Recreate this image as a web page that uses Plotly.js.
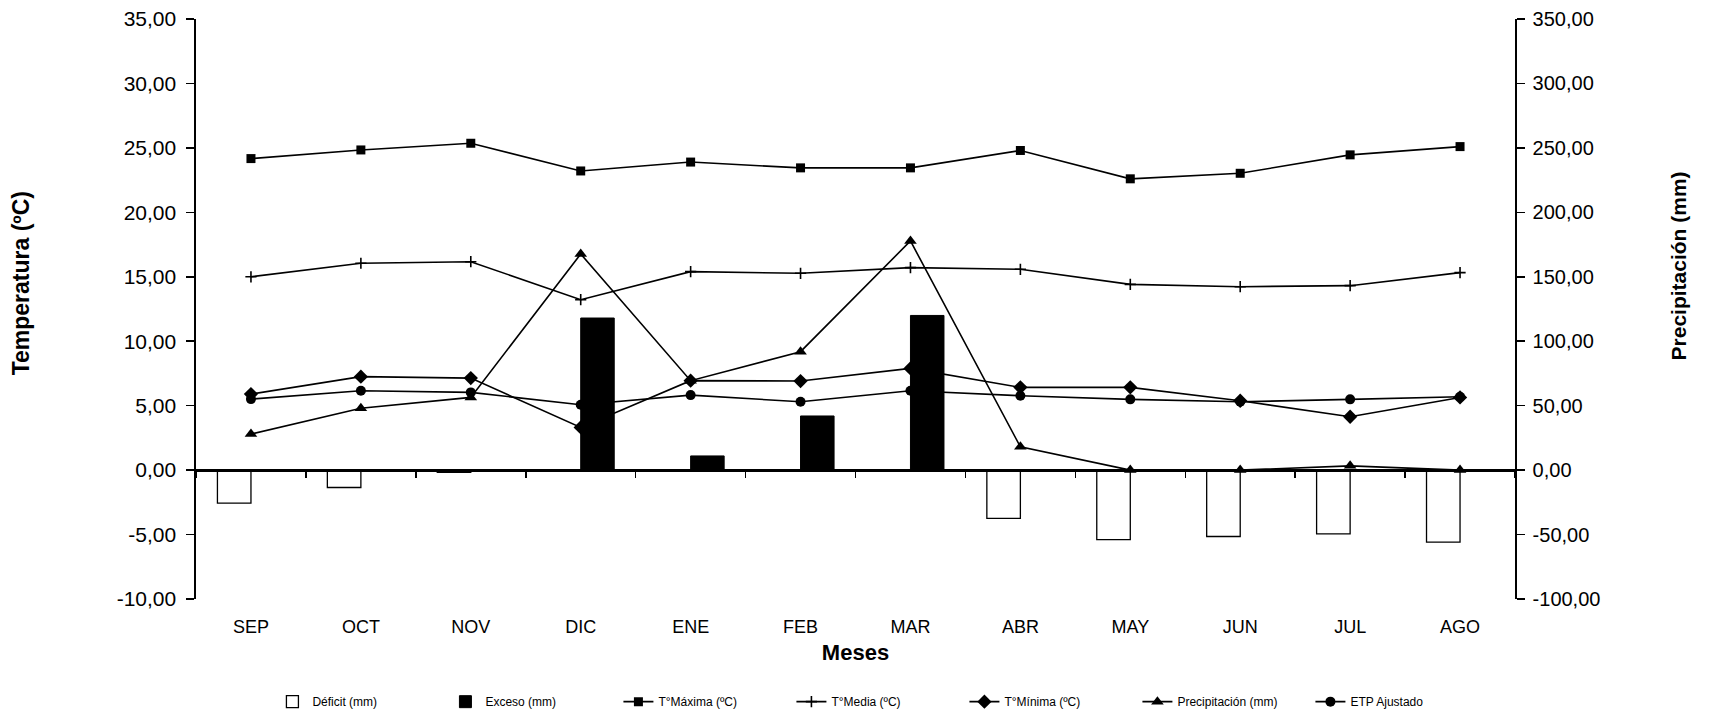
<!DOCTYPE html>
<html><head><meta charset="utf-8">
<script src="https://cdn.plot.ly/plotly-3.0.1.min.js"></script>
<style>html,body{margin:0;padding:0;background:#fff}#chart{width:1713px;height:717px}</style>
</head><body><div id="chart"></div>
<script>
const months = ['SEP','OCT','NOV','DIC','ENE','FEB','MAR','ABR','MAY','JUN','JUL','AGO'];
const deficitMm = [-25.6, -13.5, -1.8, 0, 0, 0, 0, -37.5, -53.9, -51.5, -49.5, -55.9];
const excesoMm = [0, 0, 0, 118, 11, 42, 120, 0, 0, 0, 0, 0];
const tMaxima = [24.17, 24.84, 25.36, 23.21, 23.9, 23.45, 23.45, 24.8, 22.6, 23.03, 24.46, 25.1];
const tMedia = [15.0, 16.05, 16.17, 13.22, 15.4, 15.27, 15.71, 15.58, 14.41, 14.23, 14.31, 15.32];
const tMinima = [5.9, 7.25, 7.14, 3.31, 6.94, 6.91, 7.89, 6.42, 6.42, 5.38, 4.14, 5.64];
const precipitacionMm = [28, 48, 56.4, 167.7, 69.4, 91.9, 177.8, 18.1, 0, 0, 3.3, 0];
const etpAjustadoMm = [55.1, 61.6, 60.3, 50.7, 58.2, 53.0, 61.6, 57.7, 54.9, 53.0, 54.9, 56.9];

const leftTickVals = [-10, -5, 0, 5, 10, 15, 20, 25, 30, 35];
const leftTickText = ['-10,00','-5,00','0,00','5,00','10,00','15,00','20,00','25,00','30,00','35,00'];
const rightTickVals = [-100, -50, 0, 50, 100, 150, 200, 250, 300, 350];
const rightTickText = ['-100,00','-50,00','0,00','50,00','100,00','150,00','200,00','250,00','300,00','350,00'];
const leftTitle = 'Temperatura (ºC)';
const rightTitle = 'Precipitación (mm)';
const xTitle = 'Meses';

const FONT = 'Liberation Sans, Arial, sans-serif';
const K = '#000';
const leftRange = [-10, 35];
const rightRange = [-100, 350];
const zeroFrac = (0 - leftRange[0]) / (leftRange[1] - leftRange[0]);

const lineStyle = {color: K, width: 1.6};
const traces = [
  {type:'bar', name:'Déficit (mm)', x:months, y:deficitMm, yaxis:'y2',
   marker:{color:'#fff', line:{color:K, width:1.3}}},
  {type:'bar', name:'Exceso (mm)', x:months, y:excesoMm, yaxis:'y2',
   marker:{color:K, line:{color:K, width:1}}},
  {type:'scatter', mode:'lines+markers', name:'T°Máxima (ºC)', x:months, y:tMaxima,
   line:lineStyle, marker:{symbol:'square', size:9, color:K}},
  {type:'scatter', mode:'lines+markers', name:'T°Media (ºC)', x:months, y:tMedia,
   line:lineStyle, marker:{symbol:'cross-thin', size:8, color:K, line:{color:K, width:1.6}}},
  {type:'scatter', mode:'lines+markers', name:'T°Mínima (ºC)', x:months, y:tMinima,
   line:lineStyle, marker:{symbol:'diamond', size:11, color:K}},
  {type:'scatter', mode:'lines+markers', name:'Precipitación (mm)', x:months, y:precipitacionMm, yaxis:'y2',
   line:lineStyle, marker:{symbol:'triangle-up', size:11, color:K}},
  {type:'scatter', mode:'lines+markers', name:'ETP Ajustado', x:months, y:etpAjustadoMm, yaxis:'y2',
   line:lineStyle, marker:{symbol:'circle', size:10, color:K}},
  // empty helper trace so the zero-level axis (boundary ticks) is instantiated
  {type:'scatter', mode:'none', x:[], y:[], xaxis:'x2', yaxis:'y', showlegend:false, hoverinfo:'skip'}
];

const layout = {
  width:1713, height:717,
  paper_bgcolor:'#fff', plot_bgcolor:'#fff',
  margin:{l:196, r:198, t:18.5, b:118, autoexpand:false},
  font:{family:FONT, color:K},
  barmode:'group', bargap:0.39, bargroupgap:0,
  showlegend:true,
  legend:{orientation:'h', x:0.517, xanchor:'center', y:-0.177, yanchor:'middle',
          font:{size:12, family:FONT}, entrywidth:128, entrywidthmode:'pixels', bgcolor:'rgba(0,0,0,0)'},
  xaxis:{type:'category', range:[-0.5, 11.5], showline:false, showgrid:false, zeroline:false,
         ticks:'outside', ticklen:11, tickcolor:'rgba(0,0,0,0)', tickfont:{size:18, family:FONT},
         title:{text:xTitle, font:{size:22, family:FONT, weight:'bold'}, standoff:9}},
  xaxis2:{overlaying:'x', anchor:'free', position:zeroFrac, side:'bottom', range:[-0.5, 11.5],
          tick0:0.5, dtick:1, ticks:'outside', ticklen:6, tickwidth:1.5, tickcolor:K,
          showticklabels:false, showline:true, linecolor:K, linewidth:1.6, showgrid:false, zeroline:false},
  yaxis:{range:leftRange, tickvals:leftTickVals, ticktext:leftTickText, ticks:'outside', ticklen:8,
         ticklabelstandoff:6,
         tickwidth:1.5, tickcolor:K, showline:true, linecolor:K, linewidth:1.6, showgrid:false,
         zeroline:true, zerolinecolor:K, zerolinewidth:1.6,
         tickfont:{size:21, family:FONT}},
  yaxis2:{overlaying:'y', side:'right', range:rightRange, tickvals:rightTickVals, ticktext:rightTickText,
          ticks:'outside', ticklen:8, ticklabelstandoff:4, tickwidth:1.5, tickcolor:K, showline:true, linecolor:K, linewidth:1.6,
          showgrid:false, zeroline:false, tickfont:{size:20, family:FONT}},
  annotations:[
    {text:leftTitle, xref:'paper', yref:'paper', x:-0.132, y:0.544, xanchor:'center', yanchor:'middle',
     textangle:-90, showarrow:false, font:{size:23, family:FONT, weight:'bold', color:K}},
    {text:rightTitle, xref:'paper', yref:'paper', x:1.1243, y:0.575, xanchor:'center', yanchor:'middle',
     textangle:-90, showarrow:false, font:{size:21, family:FONT, weight:'bold', color:K}}
  ]
};

Plotly.newPlot('chart', traces, layout, {displayModeBar:false, staticPlot:true});
</script>
</body></html>
